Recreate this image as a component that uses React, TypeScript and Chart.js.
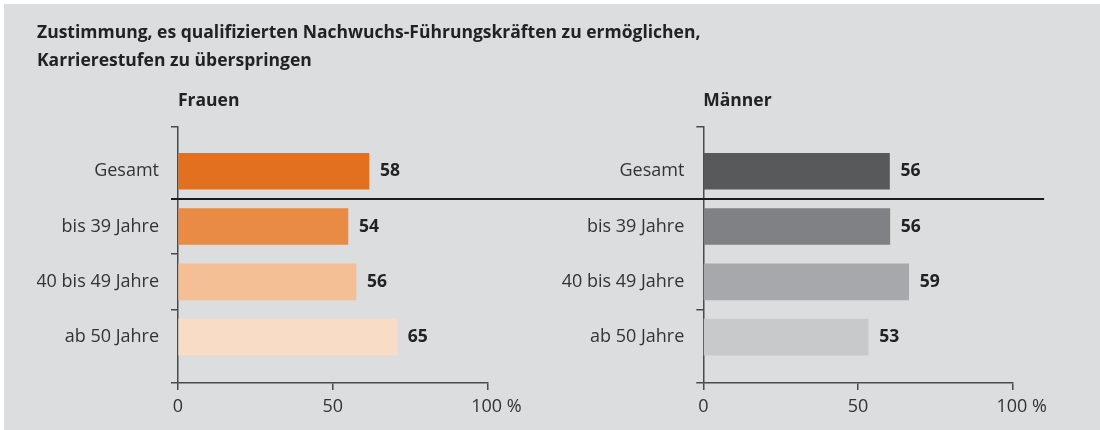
import { useEffect, useRef } from 'react';
import { Chart, registerables } from 'chart.js';

Chart.register(...registerables);

// ---- data ----
const titleLines = [
  'Zustimmung, es qualifizierten Nachwuchs-Führungskräften zu ermöglichen,',
  'Karrierestufen zu überspringen',
];
const categories = ['Gesamt', 'bis 39 Jahre', '40 bis 49 Jahre', 'ab 50 Jahre'];
const frauenBars = [61.7, 54.9, 57.5, 70.7];
const frauenLabels = ['58', '54', '56', '65'];
const maennerBars = [60.2, 60.3, 66.4, 53.3];
const maennerLabels = ['56', '56', '59', '53'];
const frauenColors = ['#e3701f', '#e98a45', '#f4bf95', '#f9dcc5'];
const maennerColors = ['#58595b', '#808184', '#a7a8ab', '#c8c9cb'];
const xTicks = [0, 50, 100];
const xTickLabels = ['0', '50', '\u2002\u2002100 %'];
const yMin = -0.8;
const yMax = 3.83;
const separatorAt = 0.5;
const frauenMarks = [yMin, 1.5, 2.5, yMax];
const maennerMarks = [yMin, 2.5, yMax];

const FONT = '"Open Sans", Lato, sans-serif';
const TEXT = '#333333';
const DARK = '#222222';
const AXIS = '#4a4a4a';

const separatorPlugin = {
  id: 'separator',
  afterDraw(chart: any, _args: any, opts: any) {
    const y = chart.scales.y.getPixelForValue(opts.at);
    const { ctx, chartArea } = chart;
    ctx.save();
    ctx.strokeStyle = opts.color;
    ctx.lineWidth = opts.width;
    ctx.beginPath();
    ctx.moveTo(Math.max(0, chartArea.left + opts.leftOffset), y);
    ctx.lineTo(chartArea.right + opts.rightOffset, y);
    ctx.stroke();
    ctx.restore();
  },
};

const valueLabelPlugin = {
  id: 'valueLabels',
  afterDatasetsDraw(chart: any, _args: any, opts: any) {
    const meta = chart.getDatasetMeta(0);
    const ctx = chart.ctx;
    ctx.save();
    ctx.font = `bold 17.5px ${FONT}`;
    ctx.fillStyle = DARK;
    ctx.textAlign = 'left';
    ctx.textBaseline = 'middle';
    meta.data.forEach((el: any, i: number) => {
      ctx.fillText(opts.labels[i], el.x + opts.gap, el.y);
    });
    ctx.restore();
  },
};

function buildConfig(opts: {
  bars: number[];
  labels: string[];
  colors: string[];
  marks: number[];
  yWidth: number;
  panelTitle: string;
  mainTitle: boolean;
  rightSpace: number;
  sepLeft: number;
  sepRight: number;
}): any {
  const yTickValues = [yMin, 0, 1, 1.5, 2, 2.5, 3, yMax];
  const scales: any = {
    x: {
      type: 'linear',
      min: 0,
      max: 100,
      offset: false,
      afterBuildTicks: (s: any) => {
        s.ticks = xTicks.map((v) => ({ value: v }));
      },
      afterFit: (s: any) => {
        s.height = 40;
      },
      ticks: {
        autoSkip: false,
        maxRotation: 0,
        padding: 6,
        color: TEXT,
        font: { family: FONT, size: 18 },
        callback: (v: number) => xTickLabels[xTicks.indexOf(v)] ?? '',
      },
      grid: { drawOnChartArea: false, drawTicks: true, offset: false, tickLength: 7, color: AXIS, lineWidth: 1.5 },
      border: { display: true, color: AXIS, width: 1.5 },
    },
    y: {
      type: 'linear',
      reverse: true,
      min: yMin,
      max: yMax,
      offset: false,
      afterBuildTicks: (s: any) => {
        s.ticks = yTickValues.map((v) => ({ value: v }));
      },
      afterFit: (s: any) => {
        s.width = opts.yWidth;
      },
      ticks: {
        autoSkip: false,
        padding: 12,
        color: TEXT,
        font: { family: FONT, size: 18 },
        callback: (v: number) =>
          Number.isInteger(v) && v >= 0 && v < categories.length ? categories[v] : '',
      },
      grid: {
        drawOnChartArea: false,
        drawTicks: true,
        offset: false,
        tickLength: 7,
        lineWidth: 1.5,
        color: (c: any) =>
          c.tick && opts.marks.includes(c.tick.value) ? AXIS : 'rgba(0,0,0,0)',
      },
      border: { display: true, color: AXIS, width: 1.5 },
    },
  };
  if (opts.mainTitle) {
    scales.spacer = {
      type: 'linear',
      position: 'right',
      display: true,
      afterFit: (s: any) => {
        s.width = opts.rightSpace;
      },
      ticks: { display: false },
      grid: { display: false },
      border: { display: false },
    };
  }
  return {
    type: 'bar',
    data: {
      datasets: [
        {
          data: opts.bars.map((v, i) => ({ x: v, y: i })),
          backgroundColor: opts.colors,
          borderWidth: 0,
          barThickness: 36,
        },
      ],
    },
    options: {
      indexAxis: 'y',
      responsive: false,
      maintainAspectRatio: false,
      animation: false,
      events: [],
      layout: {
        padding: opts.mainTitle
          ? { top: 0, left: 37, right: 0, bottom: 7 }
          : { top: 75, left: 0, right: opts.rightSpace, bottom: 7 },
      },
      scales,
      plugins: {
        legend: { display: false },
        tooltip: { enabled: false },
        title: {
          display: opts.mainTitle,
          text: titleLines,
          align: 'start',
          fullSize: true,
          color: DARK,
          font: { family: FONT, size: 17.5, weight: 'bold', lineHeight: 28 / 17.5 },
          padding: { top: 19, bottom: 0 },
        },
        subtitle: {
          display: true,
          text: opts.panelTitle,
          align: 'start',
          fullSize: false,
          color: DARK,
          font: { family: FONT, size: 17.5, weight: 'bold', lineHeight: 20 / 17.5 },
          padding: { top: 16, bottom: 16 },
        },
        separator: {
          at: separatorAt,
          color: '#1c1c1c',
          width: 2,
          leftOffset: opts.sepLeft,
          rightOffset: opts.sepRight,
        },
        valueLabels: { labels: opts.labels, gap: 11 },
      },
    },
    plugins: [separatorPlugin, valueLabelPlugin],
  };
}

export default function App() {
  const leftRef = useRef<HTMLCanvasElement | null>(null);
  const rightRef = useRef<HTMLCanvasElement | null>(null);

  useEffect(() => {
    document.body.style.margin = '0';
    const c1 = new Chart(
      leftRef.current as HTMLCanvasElement,
      buildConfig({
        bars: frauenBars,
        labels: frauenLabels,
        colors: frauenColors,
        marks: frauenMarks,
        yWidth: 141,
        panelTitle: 'Frauen',
        mainTitle: true,
        rightSpace: 612.5,
        sepLeft: -7,
        sepRight: 52.5,
      })
    );
    const c2 = new Chart(
      rightRef.current as HTMLCanvasElement,
      buildConfig({
        bars: maennerBars,
        labels: maennerLabels,
        colors: maennerColors,
        marks: maennerMarks,
        yWidth: 163.3,
        panelTitle: 'Männer',
        mainTitle: false,
        rightSpace: 87.4,
        sepLeft: -400,
        sepRight: 31.5,
      })
    );
    return () => {
      c1.destroy();
      c2.destroy();
    };
  }, []);

  return (
    <div style={{ position: 'relative', width: 1100, height: 430, background: '#ffffff', overflow: 'hidden' }}>
      <div style={{ position: 'absolute', left: 4, top: 4, right: 0, bottom: 0, background: '#dcdddf' }} />
      <canvas
        ref={leftRef}
        width={1100}
        height={430}
        style={{ position: 'absolute', left: 0, top: 0, width: 1100, height: 430 }}
      />
      <canvas
        ref={rightRef}
        width={560}
        height={430}
        style={{ position: 'absolute', left: 540, top: 0, width: 560, height: 430 }}
      />
    </div>
  );
}
